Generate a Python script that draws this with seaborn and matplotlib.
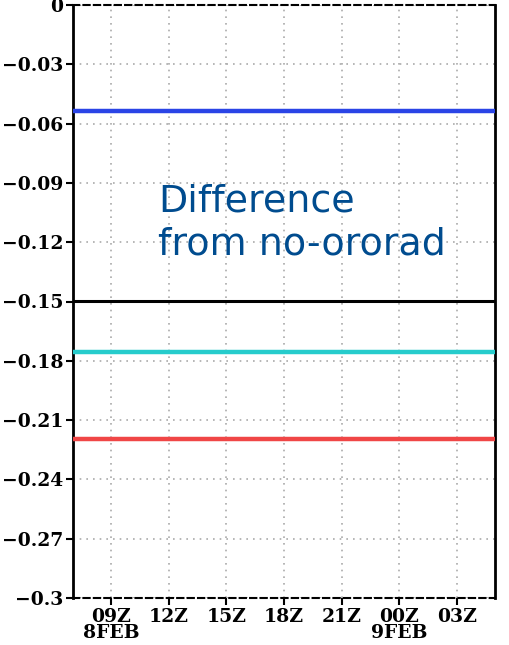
import numpy as np
import pandas as pd
import matplotlib
matplotlib.use("Agg")
import matplotlib.pyplot as plt
import seaborn as sns

# hours since 00Z 8FEB
hours = [7, 9, 12, 15, 18, 21, 24, 27, 29]
series = ["blue", "black", "cyan", "red"]
levels = [-0.0535, -0.1495, -0.1755, -0.2195]
colors = ["#2a44e6", "#000000", "#26cccc", "#f04646"]
tick_hours = [9, 12, 15, 18, 21, 24, 27]
tick_labels = ["09Z\n8FEB", "12Z", "15Z", "18Z", "21Z", "00Z\n9FEB", "03Z"]

rows = []
for name, lev in zip(series, levels):
    for h in hours:
        rows.append({"hour": h, "value": lev, "run": name})
df = pd.DataFrame(rows)

sns.set_style("white")
fig = plt.figure(figsize=(5.1, 6.45), dpi=100)
ax = fig.add_axes([73 / 510, 1 - 598 / 645, (495 - 73) / 510, (598 - 5) / 645])

sns.lineplot(data=df, x="hour", y="value", hue="run", palette=dict(zip(series, colors)),
             linewidth=3.2, legend=False, ax=ax, zorder=3)
# black line a bit thinner
ax.lines[1].set_linewidth(2.2)

ax.set_xlim(7, 29)
ax.set_ylim(-0.3, 0)
ax.set_yticks(np.round(np.arange(-0.3, 0.001, 0.03), 2))
ax.set_yticklabels(["\u22120.3", "\u22120.27", "\u22120.24", "\u22120.21", "\u22120.18", "\u22120.15",
                    "\u22120.12", "\u22120.09", "\u22120.06", "\u22120.03", "0"])
ax.set_xticks(tick_hours)
ax.set_xticklabels(tick_labels, linespacing=0.85)
ax.set_xlabel("")
ax.set_ylabel("")

for lab in ax.get_xticklabels() + ax.get_yticklabels():
    lab.set_family("DejaVu Serif")
    lab.set_fontweight("bold")
    lab.set_fontsize(13.5)
    lab.set_color("black")

ax.tick_params(axis="both", direction="out", length=5, width=1.5, color="black", pad=2, bottom=True, left=True)
ax.grid(True, linestyle=(0, (1, 3)), color="#aaaaaa", linewidth=1.2)

for s in ["left", "right"]:
    ax.spines[s].set_color("black")
    ax.spines[s].set_linewidth(2)
for s in ["top", "bottom"]:
    ax.spines[s].set_color("black")
    ax.spines[s].set_linewidth(1.5)
    ax.spines[s].set_linestyle((0, (3, 2)))

fig.text(158 / 510, 1 - 254 / 645, "Difference\nfrom no-ororad", fontsize=27.4,
         family="DejaVu Sans", color="#004c8f", linespacing=1.22, va="baseline")

fig.savefig("out.png", dpi=100)
